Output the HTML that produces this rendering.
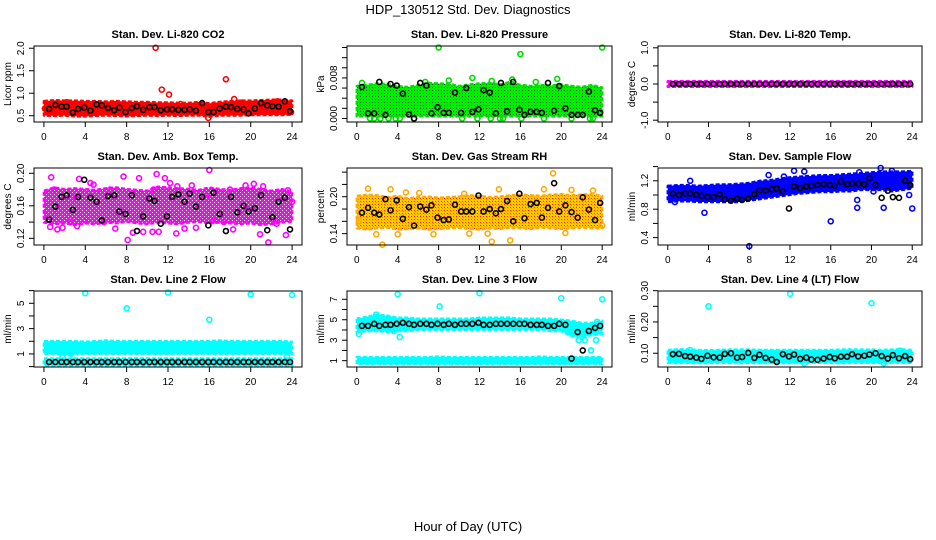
<!DOCTYPE html>
<html><head><meta charset="utf-8"><style>
html,body{margin:0;padding:0;background:#fff;}
svg{display:block;font-family:"Liberation Sans",Arial,sans-serif;}
</style></head><body>
<svg id="chart" width="936" height="540" viewBox="0 0 936 540">
<defs>
<pattern id="pat-green" width="3" height="3" patternUnits="userSpaceOnUse"><rect width="3" height="3" fill="#00ee00"/><rect width="1" height="1" fill="#115511"/></pattern>
<pattern id="pat-orange" width="3" height="3" patternUnits="userSpaceOnUse"><rect width="3" height="3" fill="#ffcc00"/><rect width="1" height="1" fill="#ff2200"/><rect x="1" y="1" width="1" height="1" fill="#ff9900"/></pattern>
<pattern id="pat-magenta" width="4" height="4" patternUnits="userSpaceOnUse"><rect width="4" height="4" fill="#ff00ff"/><rect width="1" height="1" fill="#ffffff"/><rect x="2" y="2" width="1" height="1" fill="#ffffff"/></pattern>
</defs>
<text x="468" y="14" text-anchor="middle" font-size="13">HDP_130512  Std. Dev. Diagnostics</text>
<text x="468" y="531" text-anchor="middle" font-size="13">Hour of Day (UTC)</text>
</svg>
<script>
// ---- shared data ----
const hours = [0,1,2,3,4,5,6,7,8,9,10,11,12,13,14,15,16,17,18,19,20,21,22,23,24];
const xTicks = [0,4,8,12,16,20,24];
const blkX = [0.5,1.1,1.7,2.2,2.8,3.3,3.9,4.5,5.1,5.6,6.2,6.8,7.3,7.9,8.5,9.0,9.6,10.2,10.7,11.3,11.9,12.4,13.0,13.6,14.1,14.7,15.3,15.9,16.4,17.0,17.6,18.1,18.7,19.3,19.8,20.4,21.0,21.6,22.1,22.7,23.3,23.8];

// CO2
const co2Lo = [0.55,0.54,0.55,0.53,0.53,0.54,0.55,0.54,0.53,0.54,0.55,0.54,0.55,0.54,0.55,0.55,0.52,0.55,0.55,0.55,0.56,0.56,0.56,0.56,0.57];
const co2Hi = [0.78,0.80,0.79,0.79,0.78,0.78,0.77,0.78,0.77,0.76,0.76,0.75,0.75,0.74,0.74,0.76,0.73,0.76,0.78,0.79,0.79,0.80,0.81,0.81,0.79];
const co2PtX = [10.8,11.4,12.1,17.6,18.4,22.6,15.9,0.1,2.2,6.8,13.2,19.0,23.9];
const co2PtY = [2.01,1.08,0.97,1.31,0.87,0.82,0.45,0.66,0.80,0.76,0.76,0.79,0.58];
const co2Blk = [0.65,0.74,0.70,0.70,0.57,0.65,0.68,0.61,0.75,0.73,0.67,0.62,0.68,0.58,0.67,0.71,0.63,0.69,0.69,0.62,0.64,0.64,0.63,0.63,0.64,0.61,0.78,0.58,0.58,0.66,0.70,0.69,0.65,0.64,0.55,0.66,0.78,0.73,0.71,0.70,0.82,0.60];

// Pressure
const prsLo = [0.0008,0.0008,0.0008,0.0008,0.0008,0.0008,0.0008,0.0008,0.0008,0.0008,0.0008,0.0008,0.0008,0.0008,0.0008,0.0008,0.0008,0.0008,0.0008,0.0008,0.0008,0.0008,0.0008,0.0008,0.0008];
const prsHi = [0.0060,0.0062,0.0065,0.0064,0.0060,0.0058,0.0062,0.0066,0.0065,0.0064,0.0060,0.0063,0.0065,0.0066,0.0063,0.0068,0.0062,0.0060,0.0062,0.0061,0.0063,0.0060,0.0058,0.0062,0.0057];
const prsPtX = [8.0,16.0,24.0,1.3,1.7,2.3,3.1,3.8,4.2,5.6,10.3,11.8,13.1,14.0,14.3,16.1,18.3,21.0,22.8,23.1,11.3,15.2,19.6,9.0,6.7,0.5,17.5,13.2];
const prsPtY = [0.0140,0.0127,0.0140,0,0,0,0,0,0,0,0,0,0,0,0,0,0,0,0,0,0.0080,0.0077,0.0078,0.0075,0.0072,0.0070,0.0072,0.0074];
const prsBlk = [0.0062,0.0010,0.0010,0.0072,0.0007,0.0068,0.0065,0.0049,0.0008,0.0000,0.0070,0.0065,0.0010,0.0022,0.0011,0.0011,0.0051,0.0011,0.0060,0.0013,0.0018,0.0056,0.0051,0.0010,0.0070,0.0014,0.0072,0.0017,0.0007,0.0013,0.0013,0.0011,0.0070,0.0015,0.0064,0.0020,0.0007,0.0007,0.0007,0.0053,0.0016,0.0011];

// Temp
const tmpLo = [-0.02,-0.02,-0.02,-0.02,-0.02,-0.02,-0.02,-0.02,-0.02,-0.02,-0.02,-0.02,-0.02,-0.02,-0.02,-0.02,-0.02,-0.02,-0.02,-0.02,-0.02,-0.02,-0.02,-0.02,-0.02];
const tmpHi = [0.02,0.02,0.02,0.02,0.02,0.02,0.02,0.02,0.02,0.02,0.02,0.02,0.02,0.02,0.02,0.02,0.02,0.02,0.02,0.02,0.02,0.02,0.02,0.02,0.02];
const tmpPtX = [];
const tmpPtY = [];
const tmpBlk = [0,0,0,0,0,0,0,0,0,0,0,0,0,0,0,0,0,0,0,0,0,0,0,0,0,0,0,0,0,0,0,0,0,0,0,0,0,0,0,0,0,0];

// Amb box temp
const ambLo = [0.142,0.140,0.141,0.139,0.141,0.140,0.142,0.141,0.143,0.141,0.140,0.142,0.141,0.140,0.142,0.143,0.141,0.142,0.141,0.140,0.141,0.139,0.140,0.142,0.143];
const ambHi = [0.176,0.180,0.178,0.179,0.178,0.177,0.179,0.180,0.178,0.177,0.176,0.181,0.180,0.179,0.178,0.177,0.180,0.178,0.177,0.179,0.180,0.178,0.176,0.178,0.175];
const ambPtX = [0.7,3.4,4.5,4.8,7.7,9.2,10.9,11.7,12.2,12.9,14.3,16.0,19.5,20.3,21.2,8.1,8.6,9.6,10.5,12.8,13.6,18.3,20.9,21.7,23.4,0.6,1.8,1.3,3.2,6.9,11.1,14.7,17.4,5.8,2.6,16.6,22.5,24.0,23.6,18.0,15.7,6.4,1.0,2.9,10.6];
const ambPtY = [0.195,0.193,0.188,0.186,0.196,0.194,0.199,0.194,0.188,0.184,0.185,0.204,0.185,0.187,0.184,0.118,0.127,0.128,0.128,0.126,0.132,0.131,0.125,0.115,0.124,0.134,0.133,0.131,0.135,0.132,0.128,0.133,0.140,0.140,0.140,0.142,0.138,0.165,0.179,0.180,0.170,0.180,0.180,0.172,0.180];
const ambBlk = [0.143,0.159,0.171,0.173,0.155,0.171,0.192,0.170,0.165,0.142,0.172,0.173,0.153,0.150,0.173,0.129,0.147,0.169,0.166,0.138,0.147,0.171,0.174,0.165,0.175,0.159,0.171,0.136,0.176,0.150,0.129,0.171,0.152,0.160,0.153,0.157,0.173,0.130,0.146,0.165,0.170,0.131];

// RH
const rhLo = [0.152,0.150,0.152,0.153,0.150,0.151,0.152,0.150,0.151,0.152,0.153,0.151,0.150,0.152,0.151,0.153,0.152,0.151,0.153,0.152,0.151,0.152,0.153,0.152,0.152];
const rhHi = [0.198,0.200,0.199,0.196,0.198,0.194,0.196,0.197,0.195,0.196,0.197,0.199,0.198,0.196,0.197,0.199,0.200,0.199,0.198,0.200,0.201,0.199,0.200,0.201,0.198];
const rhPtX = [1.1,3.3,4.8,6.1,10.5,13.9,18.3,19.2,21.0,23.1,2.5,13.2,15.0,1.9,7.5,11.0,12.8,20.4,24.0,0.2,4.0];
const rhPtY = [0.213,0.212,0.207,0.206,0.205,0.212,0.212,0.238,0.211,0.210,0.122,0.127,0.129,0.139,0.139,0.140,0.140,0.141,0.153,0.160,0.139];
const rhBlk = [0.174,0.182,0.174,0.171,0.196,0.178,0.194,0.164,0.183,0.153,0.184,0.179,0.186,0.166,0.162,0.163,0.187,0.176,0.176,0.176,0.202,0.176,0.180,0.173,0.180,0.193,0.160,0.205,0.165,0.188,0.190,0.166,0.182,0.222,0.176,0.186,0.175,0.166,0.199,0.179,0.162,0.190];

// Sample flow
const smpLo = [0.93,0.94,0.94,0.93,0.93,0.93,0.93,0.93,0.95,0.97,0.99,1.01,1.03,1.05,1.06,1.07,1.07,1.08,1.08,1.10,1.10,1.10,1.08,1.10,1.12];
const smpHi = [1.10,1.11,1.11,1.10,1.11,1.12,1.12,1.13,1.14,1.17,1.18,1.20,1.22,1.23,1.24,1.25,1.25,1.26,1.27,1.28,1.29,1.30,1.30,1.30,1.31];
const smpPtX = [0.7,3.6,8.0,12.4,13.4,16.0,18.6,18.8,20.9,21.2,22.0,24.0,9.9,2.2,11.4,20.2,23.7,18.6];
const smpPtY = [0.90,0.75,0.28,1.34,1.33,0.63,0.82,1.32,1.38,0.82,1.34,0.81,1.28,1.20,1.26,1.05,1.00,0.93];
const smpBlk = [1.02,1.00,1.02,1.02,1.00,0.99,0.97,0.97,1.01,0.94,0.92,0.95,0.93,0.95,1.01,1.07,1.06,1.08,1.09,1.05,0.81,1.12,1.10,1.12,1.13,1.14,1.15,1.14,1.13,1.19,1.15,1.16,1.16,1.15,1.24,1.14,0.96,1.06,0.97,0.96,1.20,1.14];

// Line 2 flow
const l2Lo = [1.15,1.15,1.10,1.15,1.15,1.15,1.15,1.15,1.15,1.15,1.15,1.15,1.15,1.15,1.15,1.15,1.15,1.15,1.15,1.15,1.15,1.15,1.15,1.15,1.15];
const l2Hi = [1.85,1.85,1.85,1.85,1.80,1.85,1.90,1.85,1.85,1.85,1.85,1.85,1.85,1.85,1.85,1.85,1.85,1.90,1.85,1.85,1.85,1.85,1.85,1.85,1.80];
const l2bLo = [0.26,0.26,0.26,0.26,0.26,0.26,0.26,0.26,0.26,0.26,0.26,0.26,0.26,0.26,0.26,0.26,0.26,0.26,0.26,0.26,0.26,0.26,0.26,0.26,0.26];
const l2bHi = [0.48,0.48,0.48,0.48,0.48,0.48,0.48,0.48,0.48,0.48,0.48,0.48,0.48,0.48,0.48,0.48,0.48,0.48,0.48,0.48,0.48,0.48,0.48,0.48,0.48];
const l2PtX = [4.0,8.0,12.0,16.0,20.0,24.0,1.8,2.6,23.5];
const l2PtY = [5.8,4.6,5.85,3.7,5.7,5.65,0.75,1.0,0.8];
const l2Blk = [0.36,0.36,0.36,0.36,0.36,0.36,0.36,0.36,0.36,0.36,0.36,0.36,0.36,0.36,0.36,0.36,0.36,0.36,0.36,0.36,0.36,0.36,0.36,0.36,0.36,0.36,0.36,0.36,0.36,0.36,0.36,0.36,0.36,0.36,0.36,0.36,0.36,0.36,0.36,0.36,0.36,0.36];

// Line 3 flow
const l3Lo = [4.0,4.1,4.1,4.0,4.1,4.1,4.2,4.2,4.2,4.2,4.2,4.2,4.2,4.2,4.2,4.2,4.2,4.2,4.2,4.1,4.1,3.6,3.5,3.7,3.8];
const l3Hi = [4.9,5.1,5.3,5.2,5.0,5.0,4.9,4.9,4.9,4.9,4.9,4.9,5.0,5.0,5.0,5.0,4.9,4.9,4.9,4.9,4.8,4.7,4.5,4.5,4.7];
const l3bLo = [0.85,0.85,0.85,0.85,0.85,0.85,0.85,0.85,0.85,0.85,0.85,0.85,0.85,0.85,0.85,0.85,0.85,0.85,0.85,0.85,0.85,0.85,0.85,0.85,0.85];
const l3bHi = [1.15,1.15,1.15,1.15,1.15,1.15,1.15,1.15,1.20,1.15,1.15,1.15,1.15,1.15,1.15,1.15,1.15,1.15,1.20,1.15,1.15,1.15,1.15,1.15,1.15];
const l3PtX = [0.2,4.0,4.2,8.1,12.0,20.0,24.0,21.7,22.3,22.9,23.4,23.5,3.6,1.9];
const l3PtY = [3.6,7.5,3.3,6.3,7.6,7.1,7.0,3.0,3.0,2.0,3.0,4.8,3.9,5.5];
const l3Blk = [4.4,4.4,4.6,4.4,4.5,4.5,4.6,4.7,4.6,4.5,4.6,4.6,4.5,4.6,4.5,4.6,4.5,4.6,4.6,4.6,4.7,4.5,4.5,4.6,4.6,4.6,4.6,4.6,4.6,4.5,4.5,4.5,4.4,4.4,4.6,4.5,1.2,3.8,2.0,3.9,4.2,4.4];

// Line 4 flow
const l4Lo = [0.076,0.075,0.076,0.075,0.075,0.076,0.076,0.075,0.076,0.075,0.075,0.075,0.075,0.075,0.076,0.076,0.076,0.075,0.076,0.076,0.076,0.075,0.076,0.076,0.076];
const l4Hi = [0.104,0.106,0.106,0.104,0.103,0.104,0.105,0.105,0.105,0.104,0.104,0.104,0.104,0.104,0.104,0.104,0.104,0.105,0.106,0.105,0.105,0.104,0.105,0.106,0.104];
const l4PtX = [4.0,12.0,20.0,2.2,21.2,13.4,22.8];
const l4PtY = [0.25,0.29,0.26,0.11,0.068,0.068,0.108];
const l4Blk = [0.097,0.098,0.091,0.089,0.086,0.082,0.092,0.087,0.086,0.098,0.100,0.086,0.088,0.101,0.085,0.095,0.085,0.080,0.072,0.097,0.090,0.096,0.082,0.086,0.080,0.079,0.083,0.088,0.084,0.089,0.089,0.097,0.090,0.092,0.096,0.100,0.091,0.083,0.094,0.084,0.091,0.081];

// ---- layout ----
const NS = 'http://www.w3.org/2000/svg';
const svg = document.getElementById('chart');
const colL = [34,347,658], colR = [302,612,922];
const rowT = [46,168,291], rowB = [122,245,367];
function mk(tag, attrs, parent){
  const e = document.createElementNS(NS, tag);
  for (const k in attrs) e.setAttribute(k, attrs[k]);
  (parent||svg).appendChild(e);
  return e;
}
const panels = [
 {name:'co2', title:'Stan. Dev. Li-820 CO2', ylab:'Licor ppm', col:'#ff0000', fill:'#ff0000', r:0,c:0, ymin:0.36, ymax:2.05, ticks:[0.5,1.0,1.5,2.0], labels:['0.5','1.0','1.5','2.0'], bands:[[co2Lo,co2Hi]], px:co2PtX, py:co2PtY, blk:co2Blk},
 {name:'pressure', title:'Stan. Dev. Li-820 Pressure', ylab:'kPa', col:'#00dd00', fill:'url(#pat-green)', r:0,c:1, ymin:-0.0007, ymax:0.0143, ticks:[0,0.002,0.004,0.006,0.008,0.010,0.012,0.014], labels:['0.000','','','','0.008','','',''], bands:[[prsLo,prsHi]], px:prsPtX, py:prsPtY, blk:prsBlk},
 {name:'temp', title:'Stan. Dev. Li-820 Temp.', ylab:'degrees C', col:'#ff00ff', fill:'#ff00ff', r:0,c:2, ymin:-1.05, ymax:1.05, ticks:[-1,-0.5,0,0.5,1], labels:['-1.0','','0.0','','1.0'], bands:[[tmpLo,tmpHi]], px:tmpPtX, py:tmpPtY, blk:tmpBlk},
 {name:'amb-box-temp', title:'Stan. Dev. Amb. Box Temp.', ylab:'degrees C', col:'#ff00ff', fill:'url(#pat-magenta)', r:1,c:0, ymin:0.1118, ymax:0.2065, ticks:[0.12,0.14,0.16,0.18,0.20], labels:['0.12','','0.16','','0.20'], bands:[[ambLo,ambHi]], px:ambPtX, py:ambPtY, blk:ambBlk},
 {name:'gas-rh', title:'Stan. Dev. Gas Stream RH', ylab:'percent', col:'#ffaa00', fill:'url(#pat-orange)', r:1,c:1, ymin:0.1215, ymax:0.2467, ticks:[0.14,0.16,0.18,0.20,0.22,0.24], labels:['0.14','','','0.20','',''], bands:[[rhLo,rhHi]], px:rhPtX, py:rhPtY, blk:rhBlk},
 {name:'sample-flow', title:'Stan. Dev. Sample Flow', ylab:'ml/min', col:'#0000ff', fill:'#0000ff', r:1,c:2, ymin:0.296, ymax:1.38, ticks:[0.4,0.6,0.8,1.0,1.2,1.4], labels:['0.4','','0.8','','1.2',''], bands:[[smpLo,smpHi]], px:smpPtX, py:smpPtY, blk:smpBlk},
 {name:'line2-flow', title:'Stan. Dev. Line 2 Flow', ylab:'ml/min', col:'#00ffff', fill:'#00ffff', r:2,c:0, ymin:-0.03, ymax:5.97, ticks:[0,1,2,3,4,5,6], labels:['','1','','3','','5',''], bands:[[l2Lo,l2Hi],[l2bLo,l2bHi]], px:l2PtX, py:l2PtY, blk:l2Blk},
 {name:'line3-flow', title:'Stan. Dev. Line 3 Flow', ylab:'ml/min', col:'#00ffff', fill:'#00ffff', r:2,c:1, ymin:0.38, ymax:7.81, ticks:[1,2,3,4,5,6,7], labels:['1','','3','','5','','7'], bands:[[l3Lo,l3Hi],[l3bLo,l3bHi]], px:l3PtX, py:l3PtY, blk:l3Blk},
 {name:'line4-flow', title:'Stan. Dev. Line 4 (LT) Flow', ylab:'ml/min', col:'#00ffff', fill:'#00ffff', r:2,c:2, ymin:0.056, ymax:0.299, ticks:[0.10,0.15,0.20,0.25,0.30], labels:['0.10','','0.20','','0.30'], bands:[[l4Lo,l4Hi]], px:l4PtX, py:l4PtY, blk:l4Blk}
];

panels.forEach(p => {
  const L = colL[p.c], R = colR[p.c], T = rowT[p.r], B = rowB[p.r];
  const xs = v => L + (v + 0.96) / 25.92 * (R - L);
  const ys = v => B - (v - p.ymin) / (p.ymax - p.ymin) * (B - T);
  const g = mk('g', {});
  
  
  const t = mk('text', {x:(L+R)/2, y:T-8, 'text-anchor':'middle', 'font-size':'11', 'font-weight':'bold'}, g);
  t.textContent = p.title;
  
  
  p.bands.forEach((bd, bi) => {
    const lo = bd[0], hi = bd[1];
    let d = '';
    hours.forEach((h,i) => { d += (i?'L':'M') + xs(h) + ',' + (ys(hi[i])-2) + ' '; });
    for (let i = hours.length-1; i >= 0; i--) d += 'L' + xs(hours[i]) + ',' + (ys(lo[i])+2) + ' ';
    const band = mk('path', {d:d+'Z', fill:p.fill, stroke:p.col, 'stroke-width':'2.5', 'stroke-dasharray':'4 2', 'stroke-linejoin':'round'}, g);
    
    
  });
  p.px.forEach((x,i) => {
    const c = mk('circle', {cx:xs(x), cy:ys(p.py[i]), r:2.5, fill:'none', stroke:p.col, 'stroke-width':'1.6'}, g);
    
    
  });
  p.blk.forEach((v,i) => {
    const c = mk('circle', {cx:xs(blkX[i]), cy:ys(v), r:2.5, fill:'none', stroke:'#000', 'stroke-width':'1.6'}, g);
    
    
  });
  const box = mk('rect', {x:L, y:T, width:R-L, height:B-T, fill:'none', stroke:'#000', 'stroke-width':'1'}, g);
  
  
  xTicks.forEach(v => {
    const X = xs(v);
    mk('line', {x1:X, x2:X, y1:B, y2:B+5, stroke:'#000'}, g);
    const tl = mk('text', {x:X, y:B+18, 'text-anchor':'middle', 'font-size':'10'}, g);
    tl.textContent = v;
    
    
  });
  p.ticks.forEach((v,i) => {
    const Y = ys(v);
    mk('line', {x1:L-5, x2:L, y1:Y, y2:Y, stroke:'#000'}, g);
    if (p.labels[i]) {
      const tl = mk('text', {x:L-10, y:Y, 'text-anchor':'middle', 'font-size':'10', transform:'rotate(-90 '+(L-10)+' '+Y+')'}, g);
      tl.textContent = p.labels[i];
      
      
    }
  });
  const yl = mk('text', {x:L-23, y:(T+B)/2, 'text-anchor':'middle', 'font-size':'10', transform:'rotate(-90 '+(L-23)+' '+((T+B)/2)+')'}, g);
  yl.textContent = p.ylab;
  
  
});
</script>
</body></html>
